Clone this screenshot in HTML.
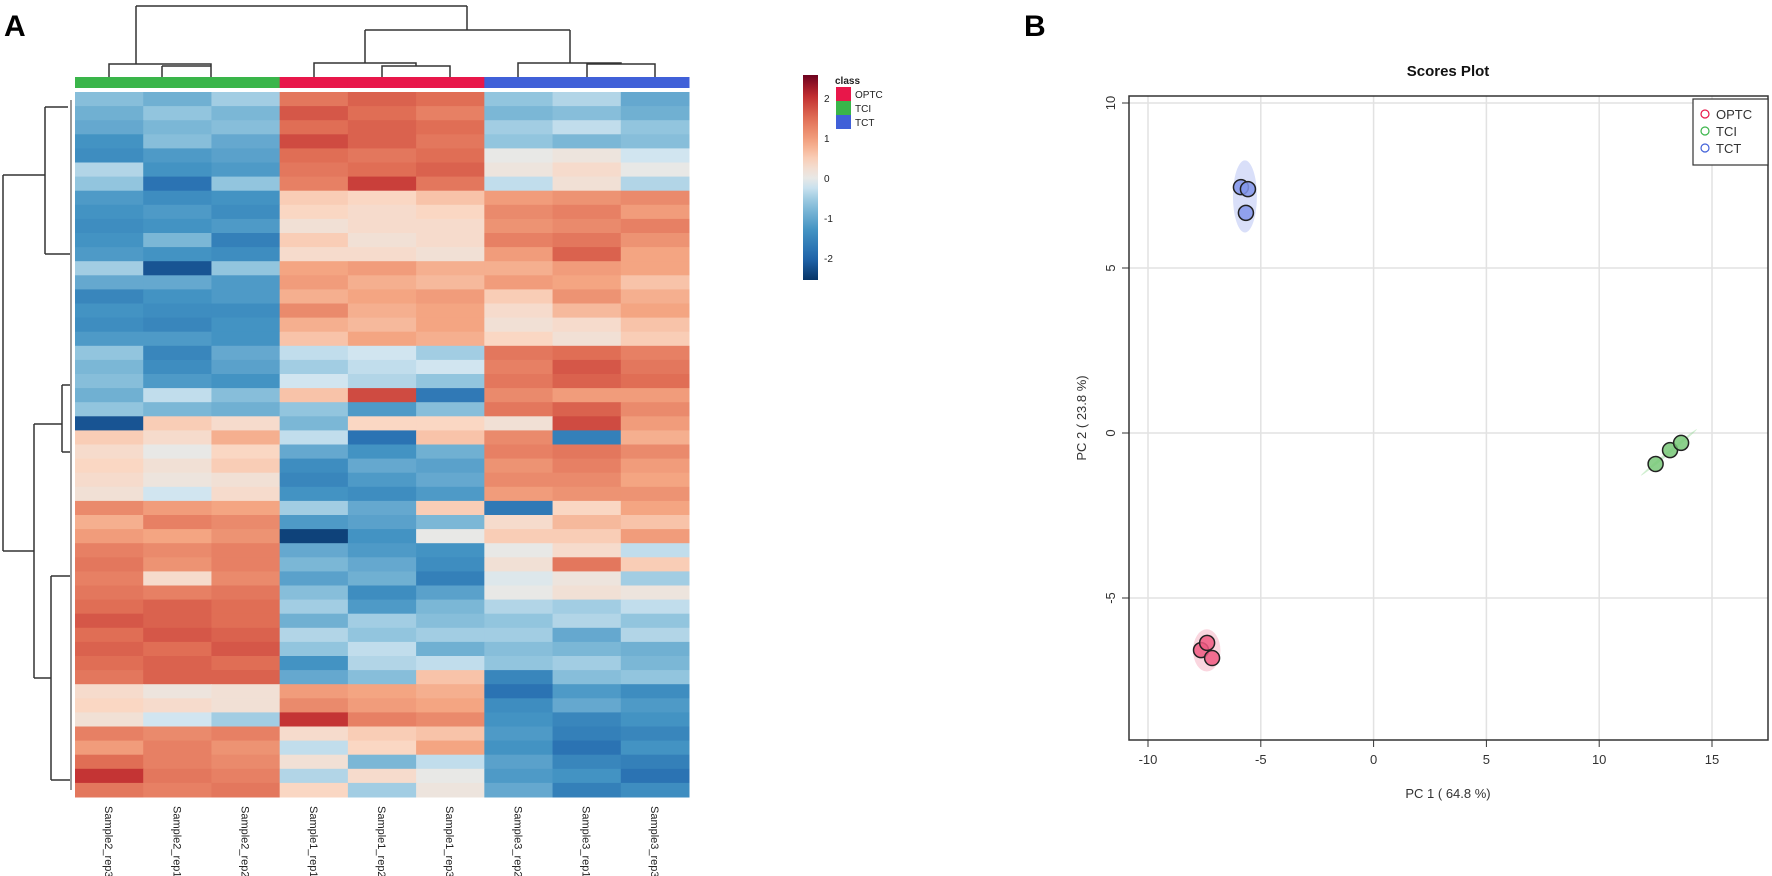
<!DOCTYPE html>
<html><head><meta charset="utf-8"><style>
body{margin:0;background:#fff;width:1772px;height:876px;overflow:hidden;font-family:"Liberation Sans",sans-serif}
svg{display:block}
</style></head><body>
<svg id="fig" width="1772" height="876" viewBox="0 0 1772 876" xmlns="http://www.w3.org/2000/svg" font-family="Liberation Sans, sans-serif">
<text x="4" y="36" font-size="30" font-weight="bold">A</text>
<text x="1024" y="36" font-size="30" font-weight="bold">B</text>
<g id="heat"></g>
<g id="coldendro" stroke="#333" stroke-width="1.5" fill="none">
<path d="M162 77V66M162 66H211M211 66V77"/>
<path d="M109 77V64H160M211 66V64H160M136 64V6"/>
<path d="M382 77V66H450V77M314 77V63H416V66M365 63V30"/>
<path d="M587 77V64H655V77M518 77V63H621V64M570 63V30"/>
<path d="M365 30H570M467 30V6M136 6H467"/>
</g>
<g id="rowdendro" stroke="#333" stroke-width="1.5" fill="none">
<path d="M3 175V551M3 175H45M45 107V254M45 107H68M45 254H70"/>
<path d="M3 551H34M34 424V678M34 424H62M62 385V452M62 385H70M62 452H70"/>
<path d="M34 678H51M51 576V780M51 576H70M51 780H70"/>
<path d="M71 100V790" stroke-width="1"/>
</g>
<g id="legend"></g>
<g id="pca"></g>
</svg>
<script>
const NS='http://www.w3.org/2000/svg';
function mk(tag,attrs,parent){const e=document.createElementNS(NS,tag);for(const k in attrs)e.setAttribute(k,attrs[k]);parent.appendChild(e);return e;}

// ---------- Heatmap data ----------
const sampleLabels=['Sample2_rep3','Sample2_rep1','Sample2_rep2','Sample1_rep1','Sample1_rep2','Sample1_rep3','Sample3_rep2','Sample3_rep1','Sample3_rep3'];
const classColors=['#3ab54a','#3ab54a','#3ab54a','#e8174a','#e8174a','#e8174a','#4060d8','#4060d8','#4060d8'];
const heatRows=[
[-0.7,-0.9,-0.5,1.4,1.6,1.5,-0.6,-0.4,-1.0],
[-0.9,-0.6,-0.8,1.7,1.5,1.3,-0.8,-0.7,-0.9],
[-1.0,-0.8,-0.7,1.5,1.6,1.5,-0.5,-0.3,-0.6],
[-1.3,-0.7,-1.0,1.8,1.6,1.4,-0.6,-0.8,-0.7],
[-1.4,-1.2,-1.1,1.5,1.4,1.5,0.0,0.1,-0.2],
[-0.4,-1.3,-1.2,1.4,1.5,1.6,0.1,0.3,0.0],
[-0.6,-1.8,-0.6,1.3,1.9,1.4,-0.3,0.2,-0.4],
[-1.2,-1.4,-1.3,0.5,0.4,0.6,1.0,1.1,1.2],
[-1.3,-1.2,-1.4,0.4,0.3,0.4,1.2,1.3,1.0],
[-1.4,-1.3,-1.2,0.2,0.3,0.3,1.1,1.2,1.3],
[-1.3,-0.8,-1.6,0.5,0.2,0.3,1.3,1.4,1.1],
[-1.2,-1.3,-1.4,0.3,0.3,0.2,1.0,1.6,0.9],
[-0.5,-2.2,-0.6,0.9,1.0,0.8,0.8,1.0,0.9],
[-1.0,-1.0,-1.2,1.0,0.8,0.7,1.0,0.9,0.6],
[-1.5,-1.3,-1.2,0.8,0.9,1.0,0.5,1.1,0.8],
[-1.3,-1.4,-1.4,1.2,0.8,0.9,0.3,0.7,0.9],
[-1.4,-1.5,-1.3,0.8,0.7,0.9,0.2,0.3,0.6],
[-1.2,-1.2,-1.3,0.6,0.9,0.8,0.4,0.2,0.5],
[-0.6,-1.5,-1.0,-0.3,-0.2,-0.5,1.4,1.5,1.3],
[-0.8,-1.4,-1.1,-0.5,-0.3,-0.2,1.3,1.7,1.4],
[-0.7,-1.2,-1.3,-0.2,-0.4,-0.6,1.4,1.6,1.5],
[-0.9,-0.3,-0.7,0.6,1.8,-1.7,1.2,1.0,1.0],
[-0.6,-0.8,-0.9,-0.6,-1.2,-0.7,1.4,1.6,1.2],
[-2.2,0.5,0.3,-0.8,0.4,0.4,0.2,1.8,1.0],
[0.5,0.3,0.8,-0.3,-1.8,0.6,1.2,-1.6,0.8],
[0.3,0.0,0.4,-1.0,-1.3,-0.9,1.3,1.4,1.2],
[0.4,0.2,0.5,-1.4,-1.0,-1.1,1.1,1.3,1.0],
[0.3,0.1,0.2,-1.5,-1.2,-1.0,1.2,1.2,0.9],
[0.2,-0.2,0.3,-1.3,-1.4,-1.2,1.0,1.1,1.1],
[1.2,1.0,0.9,-0.5,-1.0,0.5,-1.7,0.4,0.9],
[0.8,1.3,1.2,-1.2,-1.1,-0.8,0.3,0.7,0.6],
[1.0,0.9,1.1,-2.4,-1.3,0.0,0.5,0.5,1.0],
[1.3,1.2,1.3,-1.0,-1.2,-1.3,0.0,0.3,-0.3],
[1.4,1.1,1.3,-0.8,-1.0,-1.4,0.2,1.4,0.5],
[1.3,0.3,1.2,-1.1,-0.9,-1.6,-0.1,0.1,-0.5],
[1.4,1.3,1.4,-0.7,-1.4,-1.1,0.0,0.2,0.1],
[1.5,1.6,1.5,-0.5,-1.2,-0.8,-0.4,-0.5,-0.3],
[1.7,1.6,1.5,-0.9,-0.5,-0.7,-0.6,-0.4,-0.6],
[1.5,1.7,1.6,-0.4,-0.6,-0.5,-0.5,-1.0,-0.4],
[1.6,1.5,1.7,-0.6,-0.3,-0.9,-0.7,-0.8,-0.9],
[1.5,1.6,1.5,-1.3,-0.4,-0.3,-0.6,-0.5,-0.8],
[1.4,1.6,1.6,-1.0,-0.7,0.6,-1.5,-0.7,-0.6],
[0.3,0.1,0.2,1.0,0.9,0.8,-1.8,-1.2,-1.4],
[0.4,0.3,0.2,1.2,1.0,0.9,-1.4,-1.0,-1.2],
[0.2,-0.2,-0.5,2.0,1.3,1.2,-1.3,-1.5,-1.3],
[1.3,1.2,1.3,0.3,0.5,0.6,-1.2,-1.6,-1.5],
[1.0,1.3,1.1,-0.3,0.4,0.9,-1.3,-1.8,-1.3],
[1.5,1.3,1.2,0.2,-0.8,-0.3,-1.1,-1.5,-1.6],
[2.0,1.4,1.3,-0.4,0.3,0.0,-1.2,-1.3,-1.8],
[1.4,1.3,1.4,0.4,-0.5,0.1,-1.0,-1.6,-1.4]
];
const legendTicks=[2,1,0,-1,-2];
const classNames=['OPTC','TCI','TCT'];
const classKeyColors=['#e8174a','#3ab54a','#4060d8'];

const stops=[[-2.6,[5,48,97]],[-2,[33,102,172]],[-1.3,[67,147,195]],[-0.6,[146,197,222]],[-0.2,[209,229,240]],[0,[232,232,230]],[0.4,[250,215,195]],[0.9,[244,165,130]],[1.5,[224,110,85]],[2.1,[190,40,45]],[2.6,[103,0,31]]];
function col(v){v=Math.max(-2.6,Math.min(2.6,v));for(let i=0;i<stops.length-1;i++){const a=stops[i],b=stops[i+1];if(v<=b[0]){const t=(v-a[0])/(b[0]-a[0]);const c=a[1].map((x,j)=>Math.round(x+(b[1][j]-x)*t));return `rgb(${c})`;}}return 'rgb(103,0,31)';}

const HX0=75,HX1=689,HY0=92,HY1=797;
const cw=(HX1-HX0)/sampleLabels.length, rh=(HY1-HY0)/heatRows.length;
const hx=i=>HX0+i*cw, hy=r=>HY0+r*rh;
const heat=document.getElementById('heat');
heatRows.forEach((row,r)=>{row.forEach((v,c)=>{
 const e=mk('rect',{x:hx(c),y:hy(r),width:cw+0.5,height:rh+0.5,fill:col(v)},heat);
 
 
});});
classColors.forEach((c,i)=>{
 const e=mk('rect',{x:hx(i),y:77,width:cw+0.5,height:11,fill:c},heat);
 
 
});
sampleLabels.forEach((s,i)=>{
 const x=hx(i)+cw/2-4,y=806;
 const t=mk('text',{x:x,y:y,'font-size':11,fill:'#222',transform:`rotate(90 ${x} ${y})`},heat);
 t.textContent=s;
 
 
});

// legend
const lg=document.getElementById('legend');
const LB0=75,LB1=280,lv=v=>178-v*40;
const defs=mk('defs',{},lg);const gr=mk('linearGradient',{id:'cg',x1:0,y1:1,x2:0,y2:0},defs);
for(let k=0;k<=20;k++){const v=-2.55+k*5.1/20;mk('stop',{offset:(lv(v)-LB1)/(LB0-LB1),'stop-color':col(v)},gr);}
const cb=mk('rect',{x:803,y:LB0,width:15,height:LB1-LB0,fill:'url(#cg)'},lg);

legendTicks.forEach(v=>{const t=mk('text',{x:824,y:lv(v)+4,'font-size':10,fill:'#222'},lg);t.textContent=v;
 });
const ct=mk('text',{x:835,y:84,'font-size':10,'font-weight':'bold',fill:'#222'},lg);ct.textContent='class';

classNames.forEach((n,i)=>{
 const r=mk('rect',{x:836,y:87+i*14,width:15,height:14,fill:classKeyColors[i]},lg);
 
 const t=mk('text',{x:855,y:98+i*14,'font-size':10,fill:'#222'},lg);t.textContent=n;
 
});

// ---------- PCA scores ----------
const groups=['OPTC','TCI','TCT'];
const pc1_OPTC=[-7.65,-7.38,-7.16], pc2_OPTC=[-6.58,-6.36,-6.82];
const pc1_TCI=[12.5,13.14,13.63], pc2_TCI=[-0.94,-0.52,-0.3];
const pc1_TCT=[-5.88,-5.57,-5.66], pc2_TCT=[7.45,7.39,6.67];
const xTicks=[-10,-5,0,5,10,15], yTicks=[-5,0,5,10];
const fills=['rgba(240,90,130,0.85)','rgba(120,200,120,0.85)','rgba(130,150,235,0.85)'];
const strokes=['#e8174a','#3ab54a','#4060d8'];
const sx=v=>1148+(v+10)*22.56, sy=v=>433-v*33;
const P={x0:1129,x1:1768,y0:96,y1:740};
const pg=document.getElementById('pca');
const tt=mk('text',{x:1448,y:76,'font-size':15,'font-weight':'bold','text-anchor':'middle',fill:'#111'},pg);tt.textContent='Scores Plot';

xTicks.forEach(v=>{const l=mk('line',{x1:sx(v),x2:sx(v),y1:P.y0,y2:P.y1,stroke:'#e2e2e2','stroke-width':1.5},pg);
 
 mk('line',{x1:sx(v),x2:sx(v),y1:P.y1,y2:P.y1+7,stroke:'#333'},pg);
 const t=mk('text',{x:sx(v),y:P.y1+24,'font-size':13,'text-anchor':'middle',fill:'#333'},pg);t.textContent=v;
 });
yTicks.forEach(v=>{const l=mk('line',{x1:P.x0,x2:P.x1,y1:sy(v),y2:sy(v),stroke:'#e2e2e2','stroke-width':1.5},pg);
 
 mk('line',{x1:P.x0-7,x2:P.x0,y1:sy(v),y2:sy(v),stroke:'#333'},pg);
 const x=1115,y=sy(v);const t=mk('text',{x:x,y:y,'font-size':13,'text-anchor':'middle',fill:'#333',transform:`rotate(-90 ${x} ${y})`},pg);t.textContent=v;
 });
const bx=mk('rect',{x:P.x0,y:P.y0,width:P.x1-P.x0,height:P.y1-P.y0,fill:'none',stroke:'#333','stroke-width':1.5},pg);

const xa=mk('text',{x:1448,y:798,'font-size':13,'text-anchor':'middle',fill:'#333'},pg);xa.textContent='PC 1 ( 64.8 %)';

const ya=mk('text',{x:1086,y:418,'font-size':13,'text-anchor':'middle',fill:'#333',transform:'rotate(-90 1086 418)'},pg);ya.textContent='PC 2 ( 23.8 %)';

const xs=[pc1_OPTC,pc1_TCI,pc1_TCT], ys=[pc2_OPTC,pc2_TCI,pc2_TCT];
const ellFill=['rgba(240,120,150,0.3)','rgba(120,210,120,0.35)','rgba(130,150,235,0.3)'];
xs.forEach((X,g)=>{
 const mx=X.reduce((a,b)=>a+b)/X.length, my=ys[g].reduce((a,b)=>a+b)/X.length;
 const dx=X.map(v=>sx(v)-sx(mx)), dy=ys[g].map(v=>sy(v)-sy(my));
 let ang=0,rx,ry;
 if(g===1){ang=Math.atan2(sy(ys[g][2])-sy(ys[g][0]),sx(X[2])-sx(X[0]))*180/Math.PI;rx=Math.hypot(sx(X[2])-sx(X[0]),sy(ys[g][2])-sy(ys[g][0]))*1.1;ry=1.5;}
 else {rx=Math.max(...dx.map(Math.abs))+8;ry=Math.max(...dy.map(Math.abs))*1.7+8;}
 const e=mk('ellipse',{cx:sx(mx),cy:sy(my),rx:rx,ry:ry,fill:ellFill[g],transform:`rotate(${ang} ${sx(mx)} ${sy(my)})`},pg);
 
 X.forEach((v,i)=>{const c=mk('circle',{cx:sx(v),cy:sy(ys[g][i]),r:7.5,fill:fills[g],stroke:'#222','stroke-width':1.5},pg);
  });
});
const lb=mk('rect',{x:1693,y:99,width:75,height:66,fill:'#fff',stroke:'#333','stroke-width':1.2},pg);

groups.forEach((n,i)=>{const y=114+i*17;
 const c=mk('circle',{cx:1705,cy:y,r:4,fill:'none',stroke:strokes[i],'stroke-width':1.2},pg);
 
 const t=mk('text',{x:1716,y:y+5,'font-size':13,fill:'#333'},pg);t.textContent=n;
 });
</script>
</body></html>
